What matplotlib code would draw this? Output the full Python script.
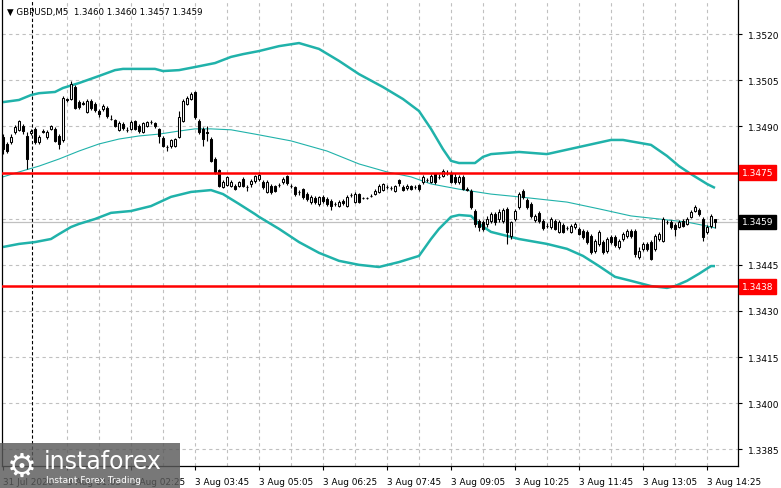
import matplotlib
matplotlib.use("Agg")
import matplotlib.pyplot as plt
from matplotlib.patches import Rectangle
import numpy as np

# GBPUSD M5 candles, 3 Aug
opens = [1.34866, 1.34843, 1.34849, 1.34882, 1.34889, 1.34901, 1.34869, 1.34879, 1.34892, 1.34849,
         1.34885, 1.34866, 1.34892, 1.34892, 1.34869, 1.34856, 1.34989, 1.34989, 1.35028, 1.34979,
         1.34976, 1.34947, 1.34982, 1.34973, 1.34950, 1.34957, 1.34960, 1.34924, 1.34921, 1.34889,
         1.34908, 1.34889, 1.34892, 1.34918, 1.34901, 1.34882, 1.34901, 1.34914, 1.34911, 1.34892,
         1.34862, 1.34833, 1.34836, 1.34836, 1.34866, 1.34918, 1.34973, 1.34989, 1.35012, 1.34918,
         1.34892, 1.34882, 1.34859, 1.34794, 1.34758, 1.34703, 1.34709, 1.34706, 1.34706, 1.34706,
         1.34729, 1.34703, 1.34713, 1.34722, 1.34729, 1.34719, 1.34687, 1.34706, 1.34706, 1.34709,
         1.34719, 1.34739, 1.34706, 1.34703, 1.34687, 1.34696, 1.34680, 1.34654, 1.34667, 1.34648,
         1.34671, 1.34664, 1.34658, 1.34648, 1.34641, 1.34658, 1.34641, 1.34677, 1.34654, 1.34680,
         1.34667, 1.34667, 1.34674, 1.34680, 1.34687, 1.34693, 1.34703, 1.34700, 1.34690, 1.34726,
         1.34703, 1.34700, 1.34706, 1.34703, 1.34709, 1.34719, 1.34726, 1.34719, 1.34745, 1.34735,
         1.34739, 1.34748, 1.34745, 1.34735, 1.34719, 1.34735, 1.34696, 1.34690, 1.34625, 1.34593,
         1.34589, 1.34583, 1.34593, 1.34615, 1.34599, 1.34593, 1.34632, 1.34544, 1.34599, 1.34638,
         1.34690, 1.34661, 1.34648, 1.34596, 1.34619, 1.34593, 1.34576, 1.34573, 1.34593, 1.34557,
         1.34580, 1.34570, 1.34557, 1.34573, 1.34567, 1.34560, 1.34557, 1.34544, 1.34495, 1.34518,
         1.34524, 1.34495, 1.34541, 1.34541, 1.34508, 1.34534, 1.34544, 1.34560, 1.34560, 1.34476,
         1.34502, 1.34518, 1.34524, 1.34502, 1.34534, 1.34528, 1.34589, 1.34589, 1.34580, 1.34573,
         1.34593, 1.34583, 1.34606, 1.34625, 1.34628, 1.34599, 1.34557, 1.34576, 1.34600]
highs = [1.34875, 1.34849, 1.34875, 1.34905, 1.34921, 1.34908, 1.34882, 1.34892, 1.34898, 1.34872,
         1.34892, 1.34888, 1.34905, 1.34898, 1.34875, 1.34999, 1.34992, 1.35047, 1.35034, 1.34986,
         1.34982, 1.34989, 1.34989, 1.34979, 1.34957, 1.34973, 1.34966, 1.34937, 1.34924, 1.34918,
         1.34914, 1.34898, 1.34921, 1.34921, 1.34908, 1.34914, 1.34918, 1.34921, 1.34914, 1.34895,
         1.34869, 1.34840, 1.34859, 1.34862, 1.34950, 1.34989, 1.34999, 1.35012, 1.35015, 1.34924,
         1.34898, 1.34901, 1.34866, 1.34801, 1.34762, 1.34726, 1.34739, 1.34726, 1.34713, 1.34722,
         1.34735, 1.34709, 1.34729, 1.34742, 1.34752, 1.34726, 1.34726, 1.34713, 1.34709, 1.34716,
         1.34735, 1.34742, 1.34713, 1.34706, 1.34693, 1.34700, 1.34687, 1.34677, 1.34674, 1.34674,
         1.34677, 1.34671, 1.34664, 1.34654, 1.34661, 1.34664, 1.34677, 1.34684, 1.34687, 1.34684,
         1.34671, 1.34671, 1.34680, 1.34696, 1.34713, 1.34716, 1.34709, 1.34706, 1.34709, 1.34729,
         1.34709, 1.34713, 1.34709, 1.34709, 1.34713, 1.34742, 1.34732, 1.34745, 1.34748, 1.34745,
         1.34762, 1.34758, 1.34755, 1.34748, 1.34742, 1.34742, 1.34703, 1.34696, 1.34632, 1.34599,
         1.34596, 1.34609, 1.34622, 1.34622, 1.34632, 1.34635, 1.34638, 1.34593, 1.34632, 1.34687,
         1.34696, 1.34667, 1.34654, 1.34615, 1.34625, 1.34599, 1.34586, 1.34606, 1.34599, 1.34596,
         1.34586, 1.34576, 1.34583, 1.34589, 1.34573, 1.34567, 1.34563, 1.34550, 1.34534, 1.34563,
         1.34531, 1.34541, 1.34547, 1.34547, 1.34534, 1.34557, 1.34567, 1.34567, 1.34567, 1.34508,
         1.34524, 1.34524, 1.34531, 1.34550, 1.34557, 1.34606, 1.34596, 1.34596, 1.34586, 1.34596,
         1.34599, 1.34606, 1.34628, 1.34645, 1.34635, 1.34606, 1.34580, 1.34615, 1.34600]
lows = [1.34810, 1.34813, 1.34843, 1.34875, 1.34885, 1.34875, 1.34762, 1.34872, 1.34843, 1.34843,
        1.34879, 1.34859, 1.34888, 1.34849, 1.34826, 1.34849, 1.34979, 1.34986, 1.34957, 1.34957,
        1.34970, 1.34944, 1.34953, 1.34947, 1.34930, 1.34950, 1.34927, 1.34921, 1.34898, 1.34885,
        1.34889, 1.34882, 1.34889, 1.34889, 1.34879, 1.34879, 1.34898, 1.34908, 1.34895, 1.34846,
        1.34833, 1.34820, 1.34830, 1.34833, 1.34862, 1.34914, 1.34970, 1.34986, 1.34924, 1.34875,
        1.34836, 1.34853, 1.34784, 1.34745, 1.34703, 1.34700, 1.34706, 1.34703, 1.34693, 1.34703,
        1.34703, 1.34690, 1.34703, 1.34716, 1.34722, 1.34696, 1.34684, 1.34680, 1.34687, 1.34703,
        1.34713, 1.34709, 1.34700, 1.34674, 1.34677, 1.34664, 1.34658, 1.34648, 1.34648, 1.34641,
        1.34651, 1.34641, 1.34628, 1.34641, 1.34638, 1.34645, 1.34638, 1.34671, 1.34651, 1.34651,
        1.34664, 1.34664, 1.34671, 1.34677, 1.34684, 1.34690, 1.34696, 1.34693, 1.34687, 1.34706,
        1.34690, 1.34693, 1.34693, 1.34696, 1.34690, 1.34713, 1.34719, 1.34716, 1.34713, 1.34729,
        1.34735, 1.34742, 1.34716, 1.34713, 1.34713, 1.34693, 1.34690, 1.34632, 1.34573, 1.34560,
        1.34560, 1.34573, 1.34586, 1.34580, 1.34589, 1.34586, 1.34518, 1.34534, 1.34593, 1.34632,
        1.34664, 1.34632, 1.34602, 1.34589, 1.34586, 1.34563, 1.34570, 1.34567, 1.34563, 1.34554,
        1.34554, 1.34563, 1.34554, 1.34567, 1.34547, 1.34534, 1.34518, 1.34485, 1.34489, 1.34511,
        1.34485, 1.34489, 1.34518, 1.34508, 1.34502, 1.34528, 1.34537, 1.34537, 1.34476, 1.34469,
        1.34495, 1.34495, 1.34466, 1.34495, 1.34528, 1.34524, 1.34583, 1.34567, 1.34544, 1.34570,
        1.34573, 1.34580, 1.34602, 1.34622, 1.34609, 1.34528, 1.34550, 1.34570, 1.34570]
closes = [1.34826, 1.34820, 1.34866, 1.34898, 1.34918, 1.34885, 1.34794, 1.34885, 1.34849, 1.34866,
          1.34882, 1.34882, 1.34901, 1.34853, 1.34843, 1.34992, 1.34986, 1.35038, 1.34960, 1.34963,
          1.34974, 1.34982, 1.34960, 1.34953, 1.34940, 1.34966, 1.34934, 1.34924, 1.34901, 1.34911,
          1.34895, 1.34888, 1.34914, 1.34892, 1.34885, 1.34911, 1.34914, 1.34913, 1.34901, 1.34869,
          1.34836, 1.34833, 1.34856, 1.34859, 1.34930, 1.34982, 1.34992, 1.35005, 1.34930, 1.34882,
          1.34859, 1.34880, 1.34787, 1.34752, 1.34706, 1.34719, 1.34736, 1.34719, 1.34696, 1.34719,
          1.34706, 1.34703, 1.34722, 1.34739, 1.34742, 1.34703, 1.34719, 1.34687, 1.34690, 1.34709,
          1.34729, 1.34716, 1.34706, 1.34680, 1.34687, 1.34671, 1.34664, 1.34671, 1.34654, 1.34671,
          1.34658, 1.34648, 1.34641, 1.34648, 1.34654, 1.34651, 1.34671, 1.34677, 1.34680, 1.34654,
          1.34667, 1.34667, 1.34674, 1.34690, 1.34706, 1.34713, 1.34703, 1.34700, 1.34706, 1.34716,
          1.34693, 1.34706, 1.34696, 1.34703, 1.34696, 1.34735, 1.34726, 1.34739, 1.34719, 1.34735,
          1.34755, 1.34748, 1.34719, 1.34719, 1.34735, 1.34696, 1.34693, 1.34638, 1.34583, 1.34573,
          1.34567, 1.34599, 1.34615, 1.34589, 1.34622, 1.34628, 1.34557, 1.34589, 1.34625, 1.34680,
          1.34671, 1.34638, 1.34609, 1.34609, 1.34593, 1.34570, 1.34576, 1.34599, 1.34567, 1.34589,
          1.34557, 1.34570, 1.34576, 1.34583, 1.34550, 1.34541, 1.34524, 1.34492, 1.34528, 1.34557,
          1.34492, 1.34534, 1.34524, 1.34515, 1.34528, 1.34550, 1.34560, 1.34544, 1.34485, 1.34495,
          1.34518, 1.34502, 1.34469, 1.34544, 1.34550, 1.34599, 1.34589, 1.34573, 1.34567, 1.34589,
          1.34576, 1.34599, 1.34622, 1.34638, 1.34615, 1.34541, 1.34573, 1.34609, 1.34590]

# Bollinger bands, read at selected bars
upper_idx = [0, 4, 7, 9, 13, 15, 19, 24, 28, 30, 38, 40, 44, 48, 53, 57, 60, 64, 69, 74, 79, 84,
             89, 95, 100, 104, 107, 110, 112, 114, 118, 120, 122, 129, 136, 144, 152, 155, 162,
             166, 169, 172, 176, 178]
upper_val = [1.34979, 1.34986, 1.35002, 1.35008, 1.35012, 1.35025, 1.35041, 1.35064, 1.35083,
             1.35087, 1.35087, 1.35080, 1.35083, 1.35093, 1.35106, 1.35126, 1.35135, 1.35145,
             1.35161, 1.35171, 1.35152, 1.35113, 1.35070, 1.35028, 1.34989, 1.34950, 1.34892,
             1.34826, 1.34788, 1.34781, 1.34781, 1.34801, 1.34810, 1.34817, 1.34810, 1.34833,
             1.34856, 1.34856, 1.34840, 1.34804, 1.34771, 1.34745, 1.34713, 1.34700]
middle_idx = [0, 4, 9, 14, 19, 24, 29, 34, 39, 44, 48, 52, 57, 63, 72, 81, 89, 96, 102, 107, 114,
              122, 129, 141, 149, 157, 164, 171, 176, 178]
middle_val = [1.34736, 1.34752, 1.34771, 1.34794, 1.34820, 1.34843, 1.34859, 1.34869, 1.34875,
              1.34885, 1.34892, 1.34892, 1.34889, 1.34875, 1.34853, 1.34820, 1.34778, 1.34752,
              1.34736, 1.34713, 1.34696, 1.34680, 1.34671, 1.34654, 1.34632, 1.34609, 1.34599,
              1.34589, 1.34576, 1.34570]
lower_idx = [0, 4, 8, 12, 14, 17, 19, 23, 27, 32, 37, 42, 47, 52, 55, 59, 63, 64, 69, 74, 79, 84,
             89, 94, 99, 104, 107, 109, 112, 114, 117, 119, 122, 126, 129, 136, 141, 145, 149,
             153, 157, 162, 166, 168, 171, 174, 177, 178]
lower_val = [1.34508, 1.34518, 1.34524, 1.34534, 1.34550, 1.34573, 1.34583, 1.34599, 1.34619,
             1.34625, 1.34641, 1.34671, 1.34687, 1.34693, 1.34680, 1.34648, 1.34615, 1.34606,
             1.34567, 1.34524, 1.34489, 1.34463, 1.34450, 1.34443, 1.34459, 1.34479, 1.34534,
             1.34567, 1.34606, 1.34612, 1.34609, 1.34583, 1.34557, 1.34544, 1.34534, 1.34518,
             1.34502, 1.34479, 1.34446, 1.34411, 1.34398, 1.34381, 1.34375, 1.34381, 1.34398,
             1.34421, 1.34446, 1.34446]

levels = [1.3475, 1.3438]
bid = 1.3459
price_ticks = [1.3520, 1.3505, 1.3490, 1.3460, 1.3445, 1.3430, 1.3415, 1.3400, 1.3385]
tick_labels = ["1.3520", "1.3505", "1.3490", "", "1.3445", "1.3430", "1.3415", "1.3400", "1.3385"]
time_idx = [0, 16, 32, 48, 64, 80, 96, 112, 128, 144, 160, 176]
time_labels = ["31 Jul 2026", "3 Aug 01:05", "3 Aug 02:25", "3 Aug 03:45", "3 Aug 05:05",
               "3 Aug 06:25", "3 Aug 07:45", "3 Aug 09:05", "3 Aug 10:25", "3 Aug 11:45",
               "3 Aug 13:05", "3 Aug 14:25"]

BAND = "#20b2aa"
W, H = 781, 489
fig = plt.figure(figsize=(W / 100, H / 100), dpi=100)
ax = fig.add_axes([2 / W, (H - 467) / H, 736 / W, 466 / H])
ax.set_xlim(-0.25, 183.75)
ax.set_ylim(1.33796, 1.35311)

# grid
for p in price_ticks:
    ax.axhline(p, color="#c0c0c0", lw=0.8, ls=(0, (3, 3)), zorder=0)
for i in range(16, 184, 8):
    ax.axvline(i, color="#c0c0c0", lw=0.8, ls=(0, (3, 3)), zorder=0)
ax.axvline(7.25, color="black", lw=0.8, ls=(0, (3, 2)), zorder=1)
ax.axhline(bid, color="#c0c0c0", lw=0.9, zorder=1)

# bands
ax.plot(upper_idx, upper_val, color=BAND, lw=1.8, zorder=2, solid_capstyle="butt")
ax.plot(lower_idx, lower_val, color=BAND, lw=1.8, zorder=2, solid_capstyle="butt")
ax.plot(middle_idx, middle_val, color=BAND, lw=0.8, zorder=2)

# candles
idx = np.arange(len(opens))
o = np.array(opens)
c = np.array(closes)
ax.vlines(idx, lows, highs, color="black", lw=0.8, zorder=3)
bull = c >= o
ax.bar(idx[bull], (c - o)[bull], bottom=o[bull], width=0.62, color="white",
       edgecolor="black", linewidth=0.75, zorder=4)
ax.bar(idx[~bull], (o - c)[~bull], bottom=c[~bull], width=0.62, color="black",
       edgecolor="black", linewidth=0.75, zorder=4)

# support / resistance
for lv in levels:
    ax.axhline(lv, color="#ff0000", lw=1.8, zorder=5)

# axes look
for s in ax.spines.values():
    s.set_color("black")
    s.set_linewidth(0.9)
ax.spines["top"].set_visible(False)
ax.yaxis.tick_right()
ax.set_yticks(price_ticks)
ax.set_yticklabels(tick_labels, fontsize=6.5)
ax.tick_params(axis="y", length=3, width=0.8, pad=4)
ax.set_xticks(time_idx)
ax.set_xticklabels([])
ax.tick_params(axis="x", length=3, width=0.8)
for i, lab in zip(time_idx, time_labels):
    ax.annotate(lab, (i, 0), xycoords=("data", "axes fraction"), xytext=(0, -11),
                textcoords="offset points", fontsize=6.4, ha="left", va="center",
                annotation_clip=False)

# price boxes on the right scale
boxes = [(levels[0], "1.3475", "#ff0000"), (levels[1], "1.3438", "#ff0000"), (bid, "1.3459", "black")]
for p, lab, col in boxes:
    ax.annotate(lab, (1, p), xycoords=("axes fraction", "data"), xytext=(3, 0),
                textcoords="offset points", fontsize=6.5, color="white", ha="left", va="center",
                bbox=dict(boxstyle="square,pad=0.3", fc=col, ec=col), annotation_clip=False)

# header
ax.text(0.007, 0.985, "\u25bc GBPUSD,M5  1.3460 1.3460 1.3457 1.3459", transform=ax.transAxes,
        fontsize=6.2, ha="left", va="top")

# watermark
fig.patches.append(Rectangle((0, 0), 180 / W, 45 / H, transform=fig.transFigure,
                             facecolor="#5a5a5a", alpha=0.82, edgecolor="none", zorder=10))
fig.text(22 / W, 22 / H, "\u2699", fontsize=24, color="white", ha="center", va="center", zorder=11)
fig.text(44 / W, 27 / H, "instaforex", fontsize=17, color="white", ha="left", va="center", zorder=11)
fig.text(46 / W, 8 / H, "Instant Forex Trading", fontsize=6.5, color="white", ha="left",
         va="center", zorder=11)

fig.savefig("out.png", dpi=100)
